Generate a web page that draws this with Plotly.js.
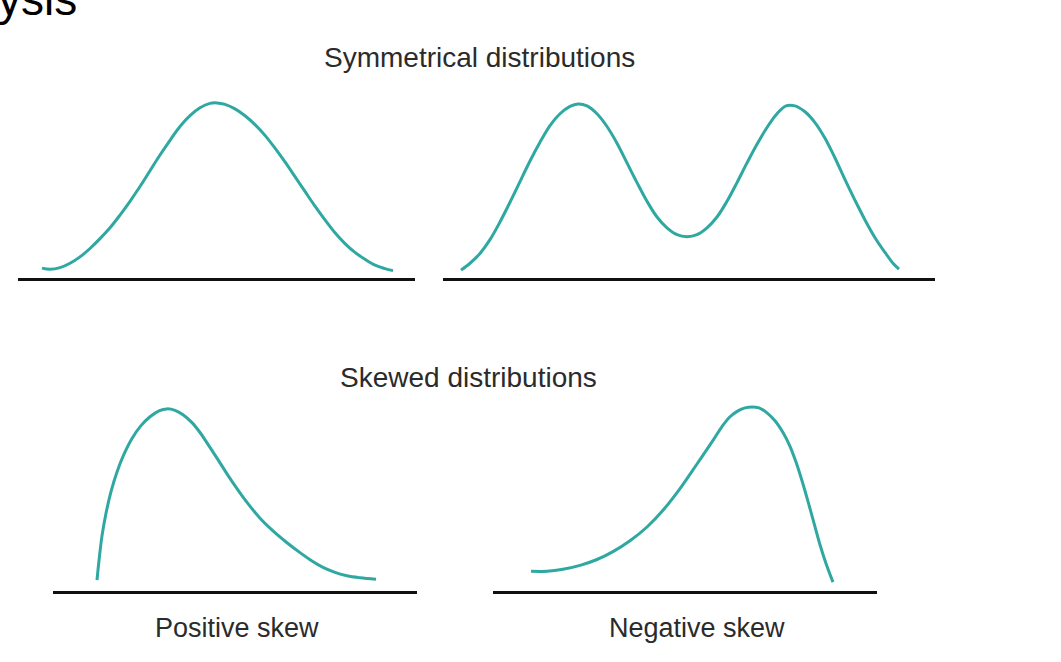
<!DOCTYPE html>
<html>
<head>
<meta charset="utf-8">
<script src="https://cdn.plot.ly/plotly-3.0.1.min.js"></script>
<style>html,body{margin:0;padding:0;background:#fff;}#chart{width:1061px;height:662px;}</style>
</head>
<body>
<div id="chart"></div>
<script>
// Panel titles / labels
const sectionTitles = ["Symmetrical distributions", "Skewed distributions"];
const panelLabels = ["", "", "Positive skew", "Negative skew"];
const headerFragment = "ysis";

// Normal (unimodal symmetrical) distribution: score vs frequency
const normalX = [24, 32, 42, 52, 62, 72, 82, 92, 102, 112, 122, 132, 142, 152, 162, 172, 182, 192, 199, 207, 217, 227, 237, 247, 257, 267, 277, 287, 297, 307, 317, 327, 337, 347, 357, 367, 375];
const normalY = [9, 7.8, 9.5, 14, 20.5, 29, 39, 50, 63, 77, 92, 108, 124, 139, 153, 164, 172, 176.5, 177, 175.5, 171, 164, 155, 144, 131, 117, 102, 87, 72, 58, 45, 34, 25, 18, 12, 8.5, 6.5];

// Bimodal symmetrical distribution
const bimodalX = [18, 27, 37, 47, 57, 67, 77, 87, 97, 107, 117, 127, 135, 144, 154, 164, 174, 184, 194, 204, 214, 224, 234, 244, 254, 264, 274, 284, 294, 304, 314, 324, 334, 343, 352, 362, 372, 382, 392, 402, 412, 422, 432, 442, 450, 456];
const bimodalY = [7, 14, 24, 38, 56, 76, 97, 118, 137, 154, 166, 173.5, 176, 174, 166, 153, 136, 116, 96, 77, 61, 50, 43, 41, 43, 50, 61, 77, 96, 116, 135, 152, 166, 174, 174, 168, 157, 141, 121, 99, 78, 58, 40, 25, 14, 8];

// Positively skewed distribution
const posX = [44, 46, 49, 53, 58, 64, 71, 79, 88, 97, 106, 114, 122, 130, 139, 147, 155, 164, 174, 184, 194, 207, 220, 234, 247, 259, 270, 282, 294, 307, 323];
const posY = [10, 30, 55, 78, 100, 120, 138, 154, 167, 176, 182, 184, 182.5, 178, 170, 160, 148, 134, 118, 103, 89, 73, 60, 48, 38, 29.5, 23, 18, 14.5, 12.5, 11];

// Negatively skewed distribution
const negX = [38, 54, 70, 87, 104, 120, 137, 154, 170, 187, 204, 220, 229, 237, 245, 252, 259, 266, 274, 282, 290, 297, 303, 309, 315, 321, 327, 333, 340];
const negY = [19, 19, 21, 25, 31, 39, 50, 64, 81, 103, 128, 152, 166, 176, 182, 185, 186, 185, 180, 172, 160, 146, 130, 111, 90, 68, 46, 27, 8];

const W = 1061, H = 662;
const curveColor = "#2fa8a2";
const textColor = "#2b2b2b";
const FONT = "Liberation Sans, Arial, sans-serif";

function px2x(p) { return p / W; }
function px2y(p) { return 1 - p / H; }

// panel geometry in pixels: [left, right, baselineY, topY]
const panels = [
  [18, 415, 278, 98],
  [443, 935, 278, 98],
  [53, 417, 591, 401],
  [493, 877, 591, 401]
];
const series = [[normalX, normalY], [bimodalX, bimodalY], [posX, posY], [negX, negY]];

const traces = [];
const layout = {
  width: W, height: H,
  margin: {l: 0, r: 0, t: 0, b: 0},
  paper_bgcolor: "#fff", plot_bgcolor: "rgba(0,0,0,0)",
  showlegend: false,
  annotations: []
};

series.forEach(function (s, i) {
  const n = i === 0 ? "" : String(i + 1);
  traces.push({
    x: s[0], y: s[1],
    xaxis: "x" + n, yaxis: "y" + n,
    type: "scatter", mode: "lines",
    line: {color: curveColor, width: 3, shape: "spline", smoothing: 1},
    hoverinfo: "skip"
  });
  const p = panels[i];
  layout["xaxis" + n] = {
    domain: [px2x(p[0]), px2x(p[1])],
    range: [0, p[1] - p[0]],
    anchor: "y" + n,
    showline: true, linecolor: "#111", linewidth: 3,
    showgrid: false, zeroline: false, showticklabels: false, ticks: "",
    fixedrange: true
  };
  layout["yaxis" + n] = {
    domain: [px2y(p[2]), px2y(p[3])],
    range: [-1, p[2] - p[3] + 2],
    anchor: "x" + n,
    showline: false, showgrid: false, zeroline: false, showticklabels: false, ticks: "",
    fixedrange: true
  };
});

function addText(text, xpx, ypx, size, color, anchor) {
  layout.annotations.push({
    text: text, xref: "paper", yref: "paper",
    x: px2x(xpx), y: px2y(ypx),
    xanchor: anchor || "center", yanchor: "middle",
    showarrow: false,
    font: {family: FONT, size: size, color: color}
  });
}

addText(sectionTitles[0], 479, 57, 28, textColor);
addText(sectionTitles[1], 468, 377, 28, textColor);
addText(panelLabels[2], 237, 628, 27, textColor);
addText(panelLabels[3], 697, 628, 27, textColor);
addText(headerFragment, -4, -1, 46, "#000", "left");

Plotly.newPlot("chart", traces, layout, {displayModeBar: false, staticPlot: true});
</script>
</body>
</html>
